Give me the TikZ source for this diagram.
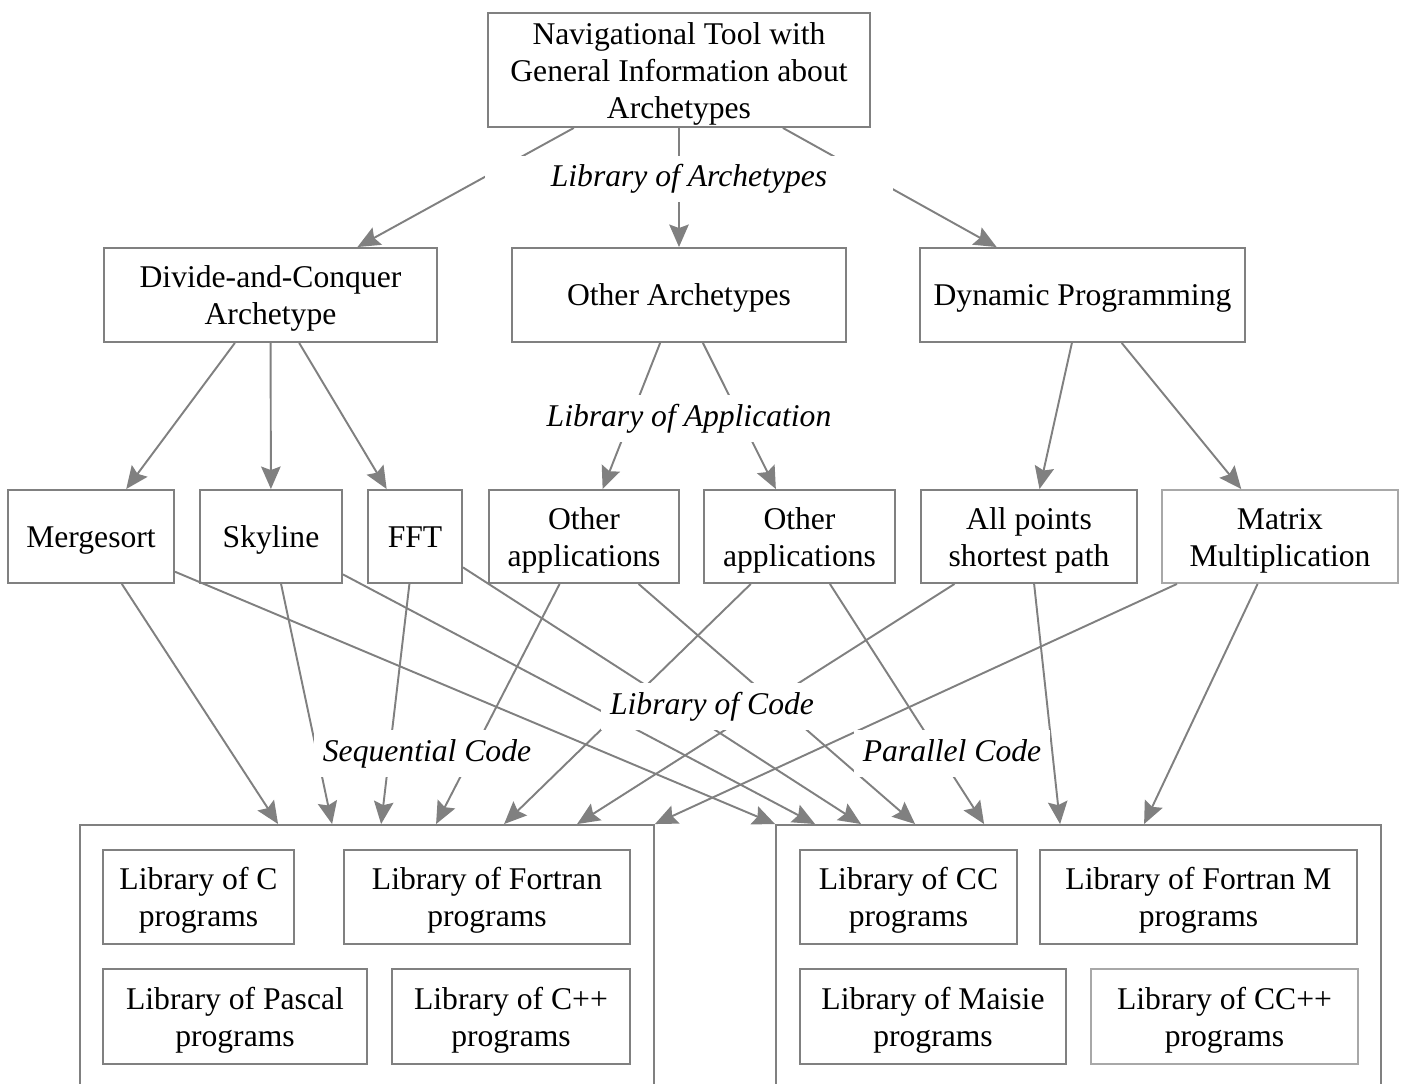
\documentclass[tikz,border=0pt]{standalone}
\usepackage{fontspec}
\setmainfont{Liberation Serif}
\usepackage{tikz}
\usetikzlibrary{arrows.meta,positioning,calc}
\usepackage{xcolor}
\definecolor{edgegray}{HTML}{808080}
\definecolor{lightgray}{HTML}{A8A8A8}
\newcommand{\boxstrut}{\rule[-4.5pt]{0pt}{21.3pt}}
\tikzset{
  block/.style   = {draw=edgegray, line width=1.1pt, rectangle, align=center,
                    inner xsep=2pt, inner ysep=0pt},
  rowtwo/.style  = {block, minimum height=1.88cm},
  rowthree/.style= {block, minimum height=1.86cm},
  libbox/.style  = {block, minimum height=1.89cm},
  outer/.style   = {draw=edgegray, line width=1.1pt, rectangle, minimum height=5.7cm},
  lbl/.style     = {fill=white, inner sep=5pt, text height=12.6pt, text depth=4pt,
                    font=\fontsize{18}{21}\selectfont\itshape},
  sig/.style     = {-{Stealth[length=0.45cm,width=0.39cm,inset=0.07cm]},
                    draw=edgegray, line width=1.1pt},
}

\begin{document}
\begin{tikzpicture}[x=0.02cm,y=-0.02cm,font=\fontsize{18}{21}\selectfont]
\path[use as bounding box,clip] (0,0) rectangle (1404,1084);

% archetype levels
\node[block,minimum width=7.64cm,minimum height=2.28cm] (arch) at (679,70)
  {\boxstrut Navigational Tool with\\General Information about\\Archetypes};
\node[rowtwo,minimum width=6.66cm] (dnc) at (270.5,295) {\boxstrut Divide-and-Conquer\\Archetype};
\node[rowtwo,minimum width=6.68cm] (otharch) at (679,295) {\boxstrut Other Archetypes};
\node[rowtwo,minimum width=6.5cm] (dynprog) at (1082.5,295) {\boxstrut Dynamic Programming};

% applications
\node[rowthree,minimum width=3.32cm] (merge) at (91,536.5) {\boxstrut Mergesort};
\node[rowthree,minimum width=2.84cm] (sky) at (271,536.5) {\boxstrut Skyline};
\node[rowthree,minimum width=1.88cm] (fft) at (415,536.5) {\boxstrut FFT};
\node[rowthree,minimum width=3.8cm] (oapp1) at (584,536.5) {\boxstrut Other\\applications};
\node[rowthree,minimum width=3.82cm] (oapp2) at (799.5,536.5) {\boxstrut Other\\applications};
\node[rowthree,minimum width=4.32cm] (apsp) at (1029,536.5) {\boxstrut All points\\shortest path};
\node[rowthree,minimum width=4.72cm,draw=lightgray] (matmul) at (1280,536.5) {\boxstrut Matrix\\Multiplication};

% code libraries
\node[outer,minimum width=11.48cm] (seqlib) at (367,967.5) {};
\node[outer,minimum width=12.1cm] (parlib) at (1078.5,967.5) {};
\node[libbox,minimum width=3.82cm] (libc) at (198.5,897) {\boxstrut Library of C\\programs};
\node[libbox,minimum width=5.72cm] (libf) at (487,897) {\boxstrut Library of Fortran\\programs};
\node[libbox,minimum width=5.28cm] (libpas) at (235,1016.5) {\boxstrut Library of Pascal\\programs};
\node[libbox,minimum width=4.76cm] (libcpp) at (511,1016.5) {\boxstrut Library of C++\\programs};
\node[libbox,minimum width=4.34cm] (libcc) at (908.5,897) {\boxstrut Library of CC\\programs};
\node[libbox,minimum width=6.34cm] (libfm) at (1198.5,897) {\boxstrut Library of Fortran M\\programs};
\node[libbox,minimum width=5.32cm] (libmai) at (933,1016.5) {\boxstrut Library of Maisie\\programs};
\node[libbox,minimum width=5.34cm,draw=lightgray] (libccpp) at (1224.5,1016.5) {\boxstrut Library of CC++\\programs};

% connectors
\draw[sig] (arch) -- (dnc); \draw[sig] (arch) -- (otharch); \draw[sig] (arch) -- (dynprog);
\draw[sig] (dnc) -- (merge); \draw[sig] (dnc) -- (sky); \draw[sig] (dnc) -- (fft);
\draw[sig] (otharch) -- (oapp1); \draw[sig] (otharch) -- (oapp2);
\draw[sig] (dynprog) -- (apsp); \draw[sig] (dynprog) -- (matmul);

\draw[sig] (merge) -- ($(seqlib.north west)+(199,0)$);
\draw[sig] (merge) -- (parlib.north west);
\draw[sig] (sky) -- ($(seqlib.north west)+(253,0)$);
\draw[sig] (sky) -- ($(parlib.north west)+(40,0)$);
\draw[sig] (fft) -- ($(seqlib.north west)+(302,0)$);
\draw[sig] (fft) -- ($(parlib.north west)+(86,0)$);
\draw[sig] (oapp1) -- ($(seqlib.north west)+(357,0)$);
\draw[sig] (oapp1) -- ($(parlib.north west)+(140,0)$);
\draw[sig] (oapp2) -- ($(seqlib.north west)+(425,0)$);
\draw[sig] (oapp2) -- ($(parlib.north west)+(209,0)$);
\draw[sig] (apsp) -- ($(seqlib.north west)+(498,0)$);
\draw[sig] (apsp) -- ($(parlib.north west)+(285,0)$);
\draw[sig] (matmul) -- (seqlib.north east);
\draw[sig] (matmul) -- ($(parlib.north west)+(369,0)$);

% labels over the connectors
\node[lbl,minimum width=8.16cm] (lblarch) at (689,179) {Library of Archetypes};
\node[lbl] (lblapp) at (689,418.5) {Library of Application};
\node[lbl] (lblcode) at (712,706.5) {Library of Code};
\node[lbl] (lblseq) at (427,753.5) {Sequential Code};
\node[lbl] (lblpar) at (952,753.5) {Parallel Code};
\end{tikzpicture}
\end{document}
